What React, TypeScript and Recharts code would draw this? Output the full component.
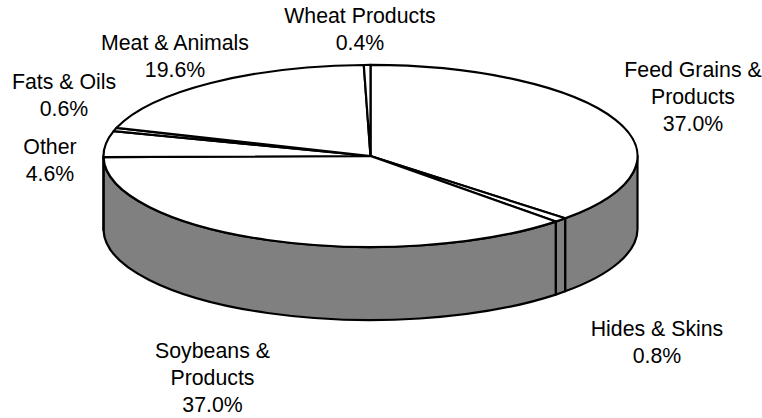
import { PieChart, Pie, Cell } from "recharts";

const categories = [
  "Feed Grains & Products",
  "Hides & Skins",
  "Soybeans & Products",
  "Other",
  "Fats & Oils",
  "Meat & Animals",
  "Wheat Products",
];
const shares = [37.0, 0.8, 37.0, 4.6, 0.6, 19.6, 0.4];
const labelLines = [
  ["Feed Grains &", "Products", "37.0%"],
  ["Hides & Skins", "0.8%"],
  ["Soybeans &", "Products", "37.0%"],
  ["Other", "4.6%"],
  ["Fats & Oils", "0.6%"],
  ["Meat & Animals", "19.6%"],
  ["Wheat Products", "0.4%"],
];

// label anchors: centre x, first baseline
const LABEL_POS = [
  [693, 77],
  [657, 336],
  [212.5, 358],
  [50, 154],
  [64, 89],
  [175, 50],
  [360, 23],
];

const WIDTH = 762;
const HEIGHT = 418;
const CX = 370.5;
const CY = 156;
const RX = 267;
const SQUASH = 0.341;
const DEPTH = 73;
const LINE_HEIGHT = 27.2;

const pt = (deg: number) => {
  const a = (deg * Math.PI) / 180;
  return [CX + RX * Math.cos(a), CY - RX * SQUASH * Math.sin(a)];
};

// flattens the sector Recharts computed into a disc face plus its front wall
function DiscSector(props: any) {
  const { startAngle, endAngle, fill } = props;
  const ry = RX * SQUASH;
  const [sx, sy] = pt(startAngle);
  const [ex, ey] = pt(endAngle);
  const large = Math.abs(startAngle - endAngle) > 180 ? 1 : 0;
  const face = `M${CX},${CY} L${sx},${sy} A${RX},${ry} 0 ${large} 1 ${ex},${ey} Z`;

  // wall only shows on the front half, -180..0 degrees
  let wall = null;
  const hi = startAngle > 0 ? 0 : startAngle;
  const lo = endAngle < -180 ? -180 : endAngle;
  if (hi > lo) {
    const [ax, ay] = pt(hi);
    const [bx, by] = pt(lo);
    const d = `M${ax},${ay} A${RX},${ry} 0 0 1 ${bx},${by} L${bx},${by + DEPTH} A${RX},${ry} 0 0 0 ${ax},${ay + DEPTH} Z`;
    wall = <path d={d} fill="#808080" stroke="#000" strokeWidth={2.2} strokeLinejoin="round" />;
  }
  return (
    <g>
      {wall}
      <path d={face} fill={fill} stroke="#000" strokeWidth={2.2} strokeLinejoin="round" />
    </g>
  );
}

function SliceLabel(props: any) {
  const { index } = props;
  const [x, y] = LABEL_POS[index];
  return (
    <text x={x} y={y} textAnchor="middle" fontFamily="Liberation Sans, Arial, sans-serif" fontSize={21.3} fill="#000">
      {labelLines[index].map((line, i) => (
        <tspan key={line} x={x} y={y + i * LINE_HEIGHT}>
          {line}
        </tspan>
      ))}
    </text>
  );
}

const chartData = categories.map((name, i) => ({ name, value: shares[i] }));

export default function App() {
  return (
    <div style={{ position: "absolute", left: 0, top: 0, width: WIDTH, height: HEIGHT, background: "#fff" }}>
      <PieChart width={WIDTH} height={HEIGHT} margin={{ top: 0, right: 0, bottom: 0, left: 0 }}>
        <Pie
          data={chartData}
          dataKey="value"
          nameKey="name"
          cx={CX}
          cy={CY}
          innerRadius={0}
          outerRadius={RX}
          startAngle={90}
          endAngle={-270}
          paddingAngle={0}
          shape={DiscSector}
          label={SliceLabel}
          labelLine={false}
          isAnimationActive={false}
        >
          {chartData.map((d) => (
            <Cell key={d.name} fill="#fff" stroke="#000" />
          ))}
        </Pie>
      </PieChart>
    </div>
  );
}
